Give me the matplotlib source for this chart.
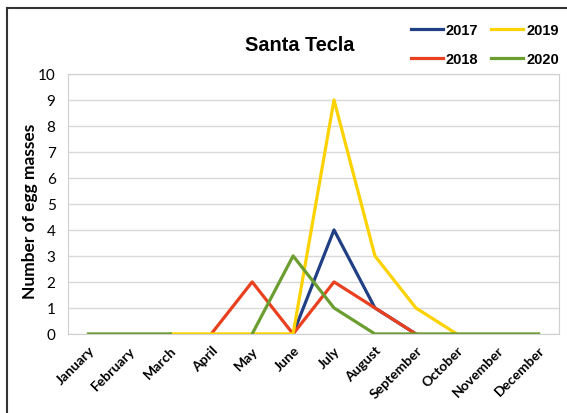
import numpy as np
import matplotlib.pyplot as plt
from matplotlib.lines import Line2D

months = ['January', 'February', 'March', 'April', 'May', 'June', 'July',
          'August', 'September', 'October', 'November', 'December']
nan = np.nan
y2017 = [nan, nan, nan, nan, nan, 0, 4, 1, 0, nan, nan, nan]
y2018 = [nan, nan, nan, 0, 2, 0, 2, 1, 0, nan, nan, nan]
y2019 = [nan, nan, 0, 0, 0, 0, 9, 3, 1, 0, nan, nan]
y2020 = [0, 0, 0, nan, 0, 3, 1, 0, 0, 0, 0, 0]

plt.rcParams['font.family'] = ['Lato', 'DejaVu Sans']

fig = plt.figure(figsize=(5.67, 4.14), dpi=100)
ax = fig.add_axes([0.12, 0.191, 0.866, 0.628])

x = np.arange(len(months))
ax.plot(x, y2017, color='#203f84', lw=2.3, label='2017')
ax.plot(x, y2018, color='#e9401f', lw=2.3, label='2018')
ax.plot(x, y2019, color='#fcd200', lw=2.3, label='2019')
ax.plot(x, y2020, color='#6b9d30', lw=2.3, label='2020')

ax.set_xlim(-0.5, 11.5)
ax.set_ylim(0, 10)
ax.set_yticks(range(0, 11))
ax.yaxis.grid(True, color='#d9d9d9', lw=1)
ax.set_axisbelow(True)
for s in ax.spines.values():
    s.set_color('#d0d0d0')
ax.tick_params(length=0)
ax.tick_params(axis='y', labelsize=11, pad=9)
ax.set_xticks(x)
ax.set_xticklabels(months, rotation=45, ha='right', rotation_mode='anchor',
                   fontsize=10, fontweight='bold')
ax.tick_params(axis='x', pad=7)
ax.set_ylabel('Number of egg masses', fontsize=12.5, fontweight='bold',
              va='center', ha='center')
ax.yaxis.set_label_coords(-0.078, 0.475)

fig.text(0.529, 0.891, 'Santa Tecla', ha='center', va='center', fontsize=14.3,
         fontweight='bold', family='Liberation Sans')

fig.legend(ncol=2, loc='center', bbox_to_anchor=(0.855, 0.89), frameon=False,
           prop={'weight': 'bold', 'size': 10.5, 'family': 'Liberation Sans'},
           handlelength=2.2, handletextpad=0.2, labelspacing=1.0,
           columnspacing=0.9)

# outer frame (top and left edge visible)
fig.add_artist(Line2D([6.5 / 567, 6.5 / 567], [0, 1 - 8.5 / 414],
                      color='#333333', lw=1.5, transform=fig.transFigure))
fig.add_artist(Line2D([6.5 / 567, 1], [1 - 8.5 / 414, 1 - 8.5 / 414],
                      color='#333333', lw=1.5, transform=fig.transFigure))

fig.savefig('out.png', dpi=100)
